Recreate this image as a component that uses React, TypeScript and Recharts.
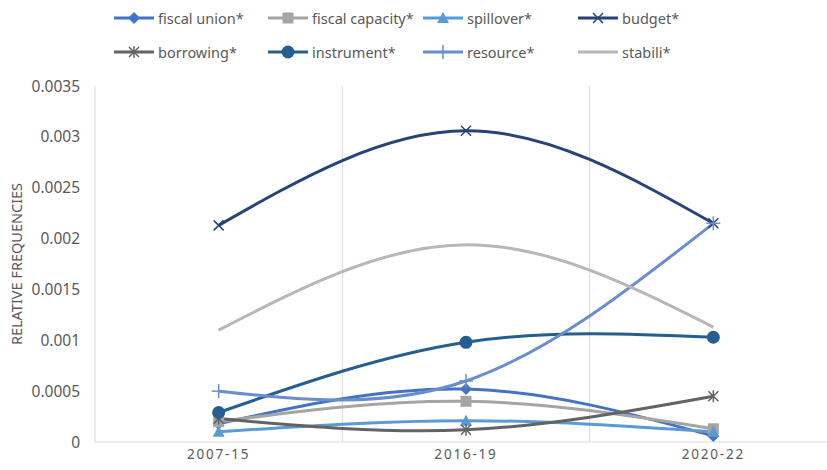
import React from "react";
import { LineChart, Line, XAxis, YAxis, CartesianGrid } from "recharts";

// Relative frequencies of each term per period
const periods = ["2007-15", "2016-19", "2020-22"];
const fiscalUnion = [0.00018, 0.00052, 0.00006];
const fiscalCapacity = [0.0002, 0.0004, 0.00013];
const spillover = [0.0001, 0.00021, 0.0001];
const budget = [0.00213, 0.00306, 0.00215];
const borrowing = [0.00023, 0.00012, 0.00045];
const instrument = [0.00029, 0.00098, 0.00103];
const resource = [0.0005, 0.0006, 0.00215];
const stabili = [0.0011, 0.00194, 0.00113];
const yTicks = [0, 0.0005, 0.001, 0.0015, 0.002, 0.0025, 0.003, 0.0035];

type MarkerKind = "diamond" | "square" | "triangle" | "x" | "star" | "circle" | "plus" | "none";

type Series = { key: string; name: string; values: number[]; color: string; marker: MarkerKind };

const series: Series[] = [
  { key: "fiscalUnion", name: "fiscal union*", values: fiscalUnion, color: "#4472C4", marker: "diamond" },
  { key: "fiscalCapacity", name: "fiscal capacity*", values: fiscalCapacity, color: "#A5A5A5", marker: "square" },
  { key: "spillover", name: "spillover*", values: spillover, color: "#5B9BD5", marker: "triangle" },
  { key: "budget", name: "budget*", values: budget, color: "#264478", marker: "x" },
  { key: "borrowing", name: "borrowing*", values: borrowing, color: "#636363", marker: "star" },
  { key: "instrument", name: "instrument*", values: instrument, color: "#255E91", marker: "circle" },
  { key: "resource", name: "resource*", values: resource, color: "#698ED0", marker: "plus" },
  { key: "stabili", name: "stabili*", values: stabili, color: "#B7B7B7", marker: "none" },
];

const data = periods.map((period, i) => {
  const row: Record<string, string | number> = { period };
  series.forEach((s) => {
    row[s.key] = s.values[i];
  });
  return row;
});

const textColor = "#595959";
const gridColor = "#D9D9D9";
const fontFamily = '"Noto Sans", "Open Sans", sans-serif';

function Marker({ cx, cy, kind, color }: { cx: number; cy: number; kind: MarkerKind; color: string }) {
  if (cx == null || cy == null) return null;
  switch (kind) {
    case "diamond":
      return <polygon points={`${cx},${cy - 6} ${cx + 6},${cy} ${cx},${cy + 6} ${cx - 6},${cy}`} fill={color} />;
    case "square":
      return <rect x={cx - 5.5} y={cy - 5.5} width={11} height={11} fill={color} />;
    case "triangle":
      return <polygon points={`${cx},${cy - 6} ${cx + 6},${cy + 5} ${cx - 6},${cy + 5}`} fill={color} />;
    case "x":
      return (
        <g stroke={color} strokeWidth={1.5}>
          <line x1={cx - 5} y1={cy - 5} x2={cx + 5} y2={cy + 5} />
          <line x1={cx - 5} y1={cy + 5} x2={cx + 5} y2={cy - 5} />
        </g>
      );
    case "star":
      return (
        <g stroke={color} strokeWidth={1.5}>
          <line x1={cx - 5} y1={cy - 5} x2={cx + 5} y2={cy + 5} />
          <line x1={cx - 5} y1={cy + 5} x2={cx + 5} y2={cy - 5} />
          <line x1={cx} y1={cy - 6} x2={cx} y2={cy + 6} />
        </g>
      );
    case "circle":
      return <circle cx={cx} cy={cy} r={6.5} fill={color} />;
    case "plus":
      return (
        <g stroke={color} strokeWidth={1.5}>
          <line x1={cx - 7} y1={cy} x2={cx + 7} y2={cy} />
          <line x1={cx} y1={cy - 7} x2={cx} y2={cy + 7} />
        </g>
      );
    default:
      return null;
  }
}

// Two rows of four entries, laid out like the spreadsheet legend
const legendColumns = [114, 268, 423, 578];
const legendRows = [18, 52];

function ChartLegend() {
  return (
    <>
      {series.map((s, i) => (
        <div
          key={s.key}
          style={{
            position: "absolute",
            left: legendColumns[i % 4],
            top: legendRows[Math.floor(i / 4)] - 10,
            height: 20,
            display: "flex",
            alignItems: "center",
            fontSize: 14.5,
            color: textColor,
            whiteSpace: "nowrap",
          }}
        >
          <svg width={40} height={16} style={{ marginRight: 4 }}>
            <line x1={0} y1={8} x2={40} y2={8} stroke={s.color} strokeWidth={3} />
            <Marker cx={20} cy={8} kind={s.marker} color={s.color} />
          </svg>
          <span>{s.name}</span>
        </div>
      ))}
    </>
  );
}

export default function App() {
  return (
    <div
      style={{
        position: "absolute",
        left: 0,
        top: 0,
        width: 827,
        height: 470,
        overflow: "hidden",
        background: "#fff",
        fontFamily,
      }}
    >
      <LineChart width={843} height={470} data={data} margin={{ top: 86, right: 6, bottom: 0, left: 0 }}>
        <CartesianGrid
          horizontal={false}
          stroke={gridColor}
          verticalCoordinatesGenerator={({ offset }: any) =>
            periods.slice(1).map((_, i) => offset.left + (offset.width * (i + 1)) / periods.length)
          }
        />
        <XAxis
          dataKey="period"
          scale="band"
          height={28}
          axisLine={{ stroke: gridColor }}
          tickLine={false}
          tickSize={0}
          tickMargin={7}
          tick={{ fill: textColor, fontSize: 13.5, letterSpacing: 1.8 }}
        />
        <YAxis
          width={95}
          domain={[0, 0.0035]}
          ticks={yTicks}
          interval={0}
          axisLine={{ stroke: gridColor }}
          tickLine={false}
          tickSize={0}
          tickMargin={15}
          tickFormatter={(v: number) => String(v)}
          tick={{ fill: textColor, fontSize: 15.5 }}
          label={{
            value: "RELATIVE FREQUENCIES",
            angle: -90,
            position: "insideLeft",
            offset: 17,
            style: { textAnchor: "middle", fill: textColor, fontSize: 14.5 },
          }}
        />
        {series.map((s) => (
          <Line
            key={s.key}
            dataKey={s.key}
            name={s.name}
            type="natural"
            stroke={s.color}
            strokeWidth={3}
            isAnimationActive={false}
            activeDot={false}
            dot={
              s.marker === "none"
                ? false
                : (p: any) => <Marker key={`${s.key}-${p.index}`} cx={p.cx} cy={p.cy} kind={s.marker} color={s.color} />
            }
          />
        ))}
      </LineChart>
      <ChartLegend />
    </div>
  );
}
